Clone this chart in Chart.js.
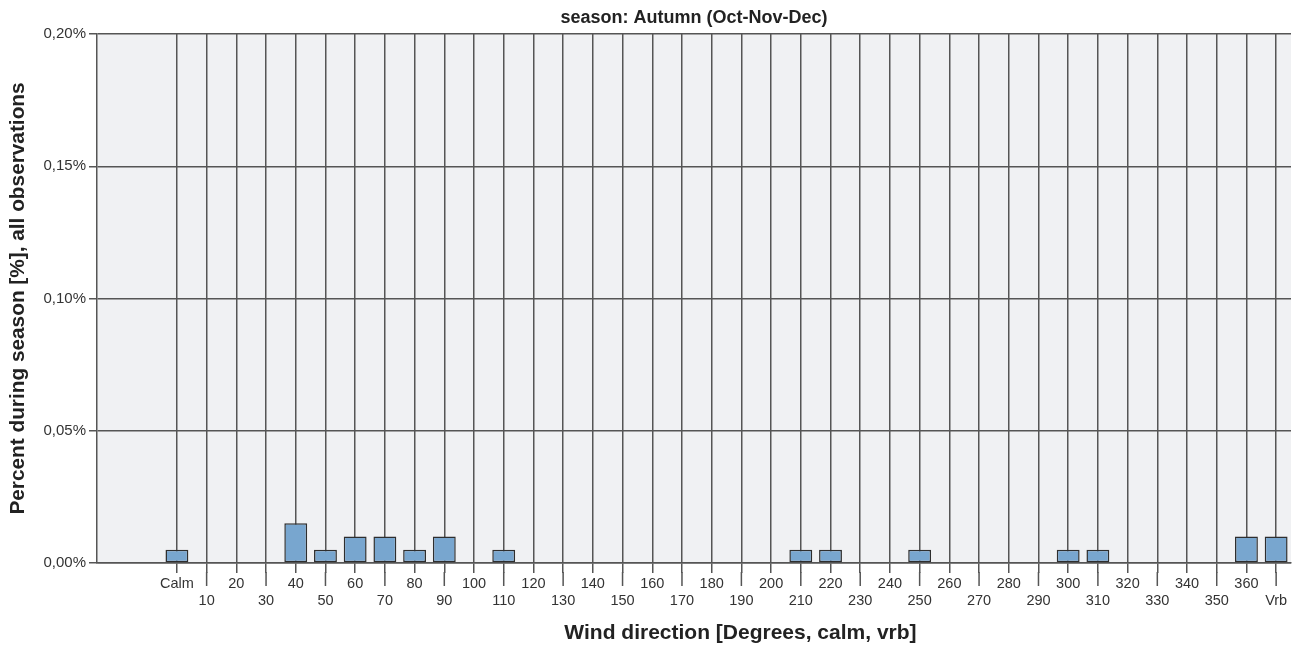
<!DOCTYPE html>
<html>
<head>
<meta charset="utf-8">
<script src="https://cdn.jsdelivr.net/npm/chart.js@4.4.0/dist/chart.umd.min.js"></script>
<style>
  html, body { margin: 0; padding: 0; background: #fff; }
  #wrap { width: 1304px; height: 646px; }
</style>
</head>
<body>
<div id="wrap"><canvas id="windChart" width="1304" height="646"></canvas></div>
<script>
// wind direction categories
const directions = ["Calm", "10", "20", "30", "40", "50", "60", "70", "80", "90",
  "100", "110", "120", "130", "140", "150", "160", "170", "180", "190", "200",
  "210", "220", "230", "240", "250", "260", "270", "280", "290", "300", "310",
  "320", "330", "340", "350", "360", "Vrb"];

// percent during season, all observations
const percents = [0.005, 0, 0, 0, 0.015, 0.005, 0.01, 0.01, 0.005, 0.01,
  0, 0.005, 0, 0, 0, 0, 0, 0, 0, 0, 0,
  0.005, 0.005, 0, 0, 0.005, 0, 0, 0, 0, 0.005, 0.005,
  0, 0, 0, 0, 0.01, 0.01];

const yTicks = [0, 0.05, 0.1, 0.15, 0.2];

const fontFamily = "'Liberation Sans', Arial, sans-serif";
const gridColor = "#555555";

const points = directions.map((d, i) => ({ x: i, y: percents[i] }));

// grey plot background
const plotBackground = {
  id: "plotBackground",
  beforeDraw(chart) {
    const { ctx, chartArea } = chart;
    ctx.save();
    ctx.fillStyle = "#f0f1f3";
    ctx.fillRect(chartArea.left, chartArea.top, chartArea.right - chartArea.left, chartArea.bottom - chartArea.top);
    ctx.restore();
  },
};

// longer tick marks for the second row of labels + x axis title
const xAxisExtras = {
  id: "xAxisExtras",
  afterDraw(chart) {
    const { ctx, chartArea } = chart;
    const xScale = chart.scales.x;
    ctx.save();
    ctx.strokeStyle = gridColor;
    ctx.lineWidth = 1.5;
    directions.forEach((d, i) => {
      if (i % 2 === 1) {
        const px = xScale.getPixelForValue(i);
        ctx.beginPath();
        ctx.moveTo(px, chartArea.bottom + 9);
        ctx.lineTo(px, chartArea.bottom + 23);
        ctx.stroke();
      }
    });
    // SPSS puts the axis title right of the plot centre
    const titleX = (xScale.getPixelForValue(0) + chart.width) / 2;
    ctx.fillStyle = "#222";
    ctx.font = "bold 21px " + fontFamily;
    ctx.textAlign = "center";
    ctx.textBaseline = "middle";
    ctx.fillText("Wind direction [Degrees, calm, vrb]", titleX, 633);
    ctx.restore();
  },
};

const windChart = new Chart(document.getElementById("windChart"), {
  type: "bar",
  data: {
    datasets: [
      {
        data: points,
        backgroundColor: "#78a6cf",
        borderColor: "#2e2e2e",
        borderWidth: 1.5,
        borderSkipped: false,
        categoryPercentage: 1,
        barPercentage: 0.77,
      },
    ],
  },
  options: {
    responsive: false,
    animation: false,
    layout: {
      padding: { left: 0, right: 13, top: 0, bottom: 0 },
    },
    scales: {
      x: {
        type: "linear",
        min: -2.69,
        max: 37.5,
        offset: false,
        afterBuildTicks: (axis) => {
          axis.ticks = directions.map((d, i) => ({ value: i }));
        },
        afterFit: (axis) => {
          axis.height = 83;
        },
        grid: {
          offset: false,
          color: gridColor,
          lineWidth: 1.5,
          tickLength: 10,
          tickColor: gridColor,
        },
        border: { display: true, color: gridColor, width: 1.5 },
        ticks: {
          autoSkip: false,
          maxRotation: 0,
          padding: 2,
          color: "#333",
          font: { family: fontFamily, size: 14.5, lineHeight: 1.2 },
          callback: (value) => {
            const label = directions[value];
            return value % 2 === 1 ? ["", label] : label;
          },
        },
      },
      // top axis only carries the chart title, centred over the plot
      top: {
        type: "linear",
        position: "top",
        min: 0,
        max: 1,
        afterFit: (axis) => {
          axis.height = 34;
        },
        grid: { display: false },
        border: { display: false },
        ticks: { display: false },
        title: {
          display: true,
          text: "season: Autumn (Oct-Nov-Dec)",
          color: "#222",
          font: { family: fontFamily, size: 18, weight: "bold" },
          padding: { top: 7, bottom: 0 },
        },
      },
      y: {
        min: 0,
        max: 0.2,
        afterBuildTicks: (axis) => {
          axis.ticks = yTicks.map((v) => ({ value: v }));
        },
        afterFit: (axis) => {
          axis.width = 97;
        },
        grid: {
          color: gridColor,
          lineWidth: 1.5,
          tickLength: 8,
          tickColor: gridColor,
        },
        border: { display: true, color: gridColor, width: 1.5 },
        ticks: {
          padding: 3,
          color: "#333",
          font: { family: fontFamily, size: 15 },
          callback: (value) => value.toFixed(2).replace(".", ",") + "%",
        },
        title: {
          display: true,
          text: "Percent during season [%], all observations",
          color: "#222",
          font: { family: fontFamily, size: 20.8, weight: "bold" },
          padding: { top: 6, bottom: 0 },
        },
      },
    },
    plugins: {
      legend: { display: false },
      tooltip: { enabled: false },
    },
  },
  plugins: [plotBackground, xAxisExtras],
});
</script>
</body>
</html>
